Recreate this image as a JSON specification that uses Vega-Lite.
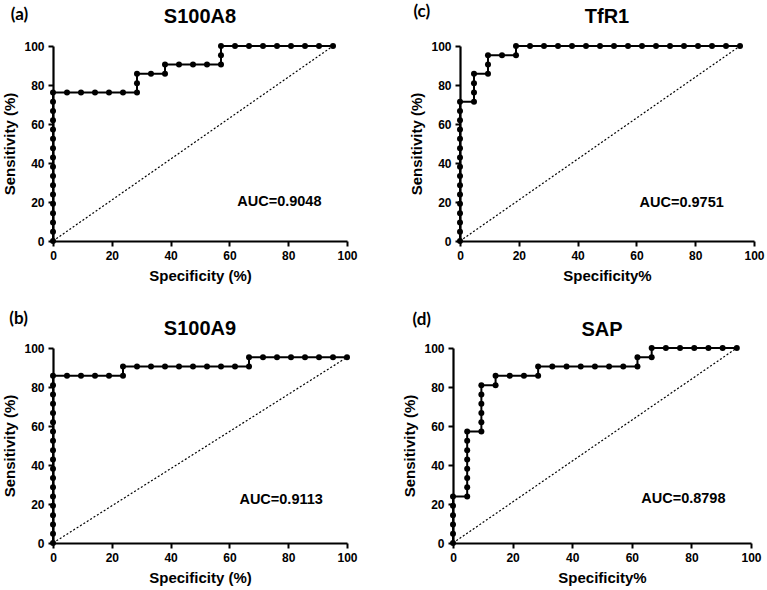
{
  "$schema": "https://vega.github.io/schema/vega-lite/v6.json",
  "background": "white",
  "padding": {"left": 2, "top": 3, "right": 5, "bottom": 5},
  "datasets": {
    "a": [{"x":0,"y":0},{"x":0,"y":4.76},{"x":0,"y":9.52},{"x":0,"y":14.29},{"x":0,"y":19.05},{"x":0,"y":23.81},{"x":0,"y":28.57},{"x":0,"y":33.33},{"x":0,"y":38.1},{"x":0,"y":42.86},{"x":0,"y":47.62},{"x":0,"y":52.38},{"x":0,"y":57.14},{"x":0,"y":61.9},{"x":0,"y":66.67},{"x":0,"y":71.43},{"x":0,"y":76.19},{"x":4.76,"y":76.19},{"x":9.52,"y":76.19},{"x":14.29,"y":76.19},{"x":19.05,"y":76.19},{"x":23.81,"y":76.19},{"x":28.57,"y":76.19},{"x":28.57,"y":80.95},{"x":28.57,"y":85.71},{"x":33.33,"y":85.71},{"x":38.1,"y":85.71},{"x":38.1,"y":90.48},{"x":42.86,"y":90.48},{"x":47.62,"y":90.48},{"x":52.38,"y":90.48},{"x":57.14,"y":90.48},{"x":57.14,"y":95.24},{"x":57.14,"y":100},{"x":61.9,"y":100},{"x":66.67,"y":100},{"x":71.43,"y":100},{"x":76.19,"y":100},{"x":80.95,"y":100},{"x":85.71,"y":100},{"x":90.48,"y":100},{"x":95.24,"y":100}],
    "c": [{"x":0,"y":0},{"x":0,"y":4.76},{"x":0,"y":9.52},{"x":0,"y":14.29},{"x":0,"y":19.05},{"x":0,"y":23.81},{"x":0,"y":28.57},{"x":0,"y":33.33},{"x":0,"y":38.1},{"x":0,"y":42.86},{"x":0,"y":47.62},{"x":0,"y":52.38},{"x":0,"y":57.14},{"x":0,"y":61.9},{"x":0,"y":66.67},{"x":0,"y":71.43},{"x":4.76,"y":71.43},{"x":4.76,"y":76.19},{"x":4.76,"y":80.95},{"x":4.76,"y":85.71},{"x":9.52,"y":85.71},{"x":9.52,"y":90.48},{"x":9.52,"y":95.24},{"x":14.29,"y":95.24},{"x":19.05,"y":95.24},{"x":19.05,"y":100},{"x":23.81,"y":100},{"x":28.57,"y":100},{"x":33.33,"y":100},{"x":38.1,"y":100},{"x":42.86,"y":100},{"x":47.62,"y":100},{"x":52.38,"y":100},{"x":57.14,"y":100},{"x":61.9,"y":100},{"x":66.67,"y":100},{"x":71.43,"y":100},{"x":76.19,"y":100},{"x":80.95,"y":100},{"x":85.71,"y":100},{"x":90.48,"y":100},{"x":95.24,"y":100}],
    "b": [{"x":0,"y":0},{"x":0,"y":4.76},{"x":0,"y":9.52},{"x":0,"y":14.29},{"x":0,"y":19.05},{"x":0,"y":23.81},{"x":0,"y":28.57},{"x":0,"y":33.33},{"x":0,"y":38.1},{"x":0,"y":42.86},{"x":0,"y":47.62},{"x":0,"y":52.38},{"x":0,"y":57.14},{"x":0,"y":61.9},{"x":0,"y":66.67},{"x":0,"y":71.43},{"x":0,"y":76.19},{"x":0,"y":80.95},{"x":0,"y":85.71},{"x":4.76,"y":85.71},{"x":9.52,"y":85.71},{"x":14.29,"y":85.71},{"x":19.05,"y":85.71},{"x":23.81,"y":85.71},{"x":23.81,"y":90.48},{"x":28.57,"y":90.48},{"x":33.33,"y":90.48},{"x":38.1,"y":90.48},{"x":42.86,"y":90.48},{"x":47.62,"y":90.48},{"x":52.38,"y":90.48},{"x":57.14,"y":90.48},{"x":61.9,"y":90.48},{"x":66.67,"y":90.48},{"x":66.67,"y":95.24},{"x":71.43,"y":95.24},{"x":76.19,"y":95.24},{"x":80.95,"y":95.24},{"x":85.71,"y":95.24},{"x":90.48,"y":95.24},{"x":95.24,"y":95.24},{"x":100,"y":95.24}],
    "d": [{"x":0,"y":0},{"x":0,"y":4.76},{"x":0,"y":9.52},{"x":0,"y":14.29},{"x":0,"y":19.05},{"x":0,"y":23.81},{"x":4.76,"y":23.81},{"x":4.76,"y":28.57},{"x":4.76,"y":33.33},{"x":4.76,"y":38.1},{"x":4.76,"y":42.86},{"x":4.76,"y":47.62},{"x":4.76,"y":52.38},{"x":4.76,"y":57.14},{"x":9.52,"y":57.14},{"x":9.52,"y":61.9},{"x":9.52,"y":66.67},{"x":9.52,"y":71.43},{"x":9.52,"y":76.19},{"x":9.52,"y":80.95},{"x":14.29,"y":80.95},{"x":14.29,"y":85.71},{"x":19.05,"y":85.71},{"x":23.81,"y":85.71},{"x":28.57,"y":85.71},{"x":28.57,"y":90.48},{"x":33.33,"y":90.48},{"x":38.1,"y":90.48},{"x":42.86,"y":90.48},{"x":47.62,"y":90.48},{"x":52.38,"y":90.48},{"x":57.14,"y":90.48},{"x":61.9,"y":90.48},{"x":61.9,"y":95.24},{"x":66.67,"y":95.24},{"x":66.67,"y":100},{"x":71.43,"y":100},{"x":76.19,"y":100},{"x":80.95,"y":100},{"x":85.71,"y":100},{"x":90.48,"y":100},{"x":95.24,"y":100}],
    "diag_a": [{"x":0,"y":0},{"x":95.24,"y":100}],
    "diag_b": [{"x":0,"y":0},{"x":100,"y":95.24}],
    "one": [{}]
  },
  "vconcat": [
    {
      "spacing": 51,
      "hconcat": [
        {
          "width": 294, "height": 195,
          "layer": [
            {"data": {"name": "diag_a"}, "mark": {"type": "line", "color": "black", "strokeWidth": 1.2, "strokeDash": [2, 2]},
             "encoding": {"x": {"field": "x", "type": "quantitative", "scale": {"domain": [0, 100], "nice": false}, "axis": {"values": [0,20,40,60,80,100], "title": "Specificity (%)", "titlePadding": 7}},
                          "y": {"field": "y", "type": "quantitative", "scale": {"domain": [0, 100], "nice": false}, "axis": {"values": [0,20,40,60,80,100], "title": "Sensitivity (%)"}}}},
            {"data": {"name": "a"}, "mark": {"type": "line", "color": "black", "strokeWidth": 2},
             "encoding": {"x": {"field": "x", "type": "quantitative"}, "y": {"field": "y", "type": "quantitative"}, "order": {"value": null}}},
            {"data": {"name": "a"}, "mark": {"type": "circle", "color": "black", "size": 36, "opacity": 1},
             "encoding": {"x": {"field": "x", "type": "quantitative"}, "y": {"field": "y", "type": "quantitative"}}},
            {"data": {"name": "one"}, "mark": {"type": "text", "text": "AUC=0.9048", "fontSize": 14.5, "fontWeight": "bold", "font": "Liberation Sans", "color": "black"},
             "encoding": {"x": {"datum": 77}, "y": {"datum": 20}}},
            {"data": {"name": "one"}, "mark": {"type": "text", "text": "S100A8", "fontSize": 20, "fontWeight": "bold", "font": "Liberation Sans", "color": "black"},
             "encoding": {"x": {"datum": 50}, "y": {"datum": 114.7}}},
            {"data": {"name": "one"}, "mark": {"type": "text", "text": "(a)", "fontSize": 17, "fontWeight": "bold", "font": "Lato", "color": "black"},
             "encoding": {"x": {"datum": -11.4}, "y": {"datum": 115.9}}}
          ]
        },
        {
          "width": 294, "height": 195,
          "layer": [
            {"data": {"name": "diag_a"}, "mark": {"type": "line", "color": "black", "strokeWidth": 1.2, "strokeDash": [2, 2]},
             "encoding": {"x": {"field": "x", "type": "quantitative", "scale": {"domain": [0, 100], "nice": false}, "axis": {"values": [0,20,40,60,80,100], "title": "Specificity%", "titlePadding": 7}},
                          "y": {"field": "y", "type": "quantitative", "scale": {"domain": [0, 100], "nice": false}, "axis": {"values": [0,20,40,60,80,100], "title": "Sensitivity (%)"}}}},
            {"data": {"name": "c"}, "mark": {"type": "line", "color": "black", "strokeWidth": 2},
             "encoding": {"x": {"field": "x", "type": "quantitative"}, "y": {"field": "y", "type": "quantitative"}, "order": {"value": null}}},
            {"data": {"name": "c"}, "mark": {"type": "circle", "color": "black", "size": 36, "opacity": 1},
             "encoding": {"x": {"field": "x", "type": "quantitative"}, "y": {"field": "y", "type": "quantitative"}}},
            {"data": {"name": "one"}, "mark": {"type": "text", "text": "AUC=0.9751", "fontSize": 14.5, "fontWeight": "bold", "font": "Liberation Sans", "color": "black"},
             "encoding": {"x": {"datum": 75.4}, "y": {"datum": 19.3}}},
            {"data": {"name": "one"}, "mark": {"type": "text", "text": "TfR1", "fontSize": 20, "fontWeight": "bold", "font": "Liberation Sans", "color": "black"},
             "encoding": {"x": {"datum": 50}, "y": {"datum": 114.9}}},
            {"data": {"name": "one"}, "mark": {"type": "text", "text": "(c)", "fontSize": 17, "fontWeight": "bold", "font": "Lato", "color": "black"},
             "encoding": {"x": {"datum": -13}, "y": {"datum": 117.4}}}
          ]
        }
      ]
    },
    {
      "spacing": 44,
      "hconcat": [
        {
          "width": 294, "height": 195,
          "layer": [
            {"data": {"name": "diag_b"}, "mark": {"type": "line", "color": "black", "strokeWidth": 1.2, "strokeDash": [2, 2]},
             "encoding": {"x": {"field": "x", "type": "quantitative", "scale": {"domain": [0, 100], "nice": false}, "axis": {"values": [0,20,40,60,80,100], "title": "Specificity (%)", "titlePadding": 7}},
                          "y": {"field": "y", "type": "quantitative", "scale": {"domain": [0, 100], "nice": false}, "axis": {"values": [0,20,40,60,80,100], "title": "Sensitivity (%)"}}}},
            {"data": {"name": "b"}, "mark": {"type": "line", "color": "black", "strokeWidth": 2},
             "encoding": {"x": {"field": "x", "type": "quantitative"}, "y": {"field": "y", "type": "quantitative"}, "order": {"value": null}}},
            {"data": {"name": "b"}, "mark": {"type": "circle", "color": "black", "size": 36, "opacity": 1},
             "encoding": {"x": {"field": "x", "type": "quantitative"}, "y": {"field": "y", "type": "quantitative"}}},
            {"data": {"name": "one"}, "mark": {"type": "text", "text": "AUC=0.9113", "fontSize": 14.5, "fontWeight": "bold", "font": "Liberation Sans", "color": "black"},
             "encoding": {"x": {"datum": 77.6}, "y": {"datum": 22.2}}},
            {"data": {"name": "one"}, "mark": {"type": "text", "text": "S100A9", "fontSize": 20, "fontWeight": "bold", "font": "Liberation Sans", "color": "black"},
             "encoding": {"x": {"datum": 50}, "y": {"datum": 109.7}}},
            {"data": {"name": "one"}, "mark": {"type": "text", "text": "(b)", "fontSize": 17, "fontWeight": "bold", "font": "Lato", "color": "black"},
             "encoding": {"x": {"datum": -11.7}, "y": {"datum": 114.9}}}
          ]
        },
        {
          "width": 298, "height": 195,
          "layer": [
            {"data": {"name": "diag_a"}, "mark": {"type": "line", "color": "black", "strokeWidth": 1.2, "strokeDash": [2, 2]},
             "encoding": {"x": {"field": "x", "type": "quantitative", "scale": {"domain": [0, 100], "nice": false}, "axis": {"values": [0,20,40,60,80,100], "title": "Specificity%", "titlePadding": 7}},
                          "y": {"field": "y", "type": "quantitative", "scale": {"domain": [0, 100], "nice": false}, "axis": {"values": [0,20,40,60,80,100], "title": "Sensitivity (%)"}}}},
            {"data": {"name": "d"}, "mark": {"type": "line", "color": "black", "strokeWidth": 2},
             "encoding": {"x": {"field": "x", "type": "quantitative"}, "y": {"field": "y", "type": "quantitative"}, "order": {"value": null}}},
            {"data": {"name": "d"}, "mark": {"type": "circle", "color": "black", "size": 36, "opacity": 1},
             "encoding": {"x": {"field": "x", "type": "quantitative"}, "y": {"field": "y", "type": "quantitative"}}},
            {"data": {"name": "one"}, "mark": {"type": "text", "text": "AUC=0.8798", "fontSize": 14.5, "fontWeight": "bold", "font": "Liberation Sans", "color": "black"},
             "encoding": {"x": {"datum": 77.3}, "y": {"datum": 22.7}}},
            {"data": {"name": "one"}, "mark": {"type": "text", "text": "SAP", "fontSize": 20, "fontWeight": "bold", "font": "Liberation Sans", "color": "black"},
             "encoding": {"x": {"datum": 50}, "y": {"datum": 109.4}}},
            {"data": {"name": "one"}, "mark": {"type": "text", "text": "(d)", "fontSize": 17, "fontWeight": "bold", "font": "Lato", "color": "black"},
             "encoding": {"x": {"datum": -10.5}, "y": {"datum": 114.5}}}
          ]
        }
      ]
    }
  ],
  "spacing": 26,
  "config": {
    "view": {"stroke": null},
    "font": "Liberation Sans",
    "axis": {
      "grid": false,
      "domainColor": "black", "domainWidth": 2.2,
      "tickColor": "black", "tickWidth": 2, "tickSize": 5, "tickCount": 10,
      "labelFont": "Liberation Sans", "labelFontSize": 12, "labelFontWeight": "bold", "labelColor": "black", "labelPadding": 4,
      "labelOverlap": false, "labelFlush": false,
      "titleFont": "Liberation Sans", "titleFontSize": 15, "titleFontWeight": "bold", "titleColor": "black", "titlePadding": 6
    }
  }
}
